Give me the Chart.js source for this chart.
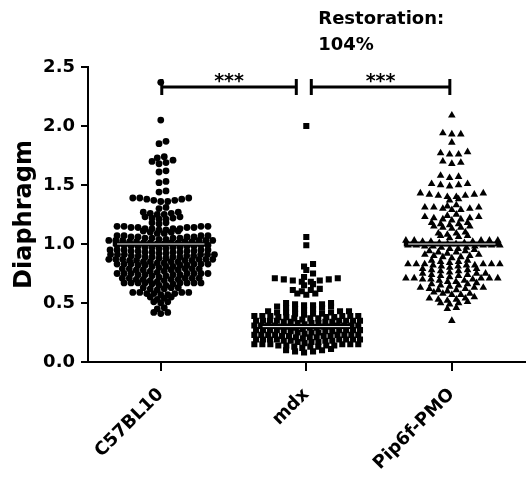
<!DOCTYPE html>
<html><head><meta charset="utf-8">
<script src="https://cdn.jsdelivr.net/npm/chart.js@4/dist/chart.umd.min.js"></script>
<style>html,body{margin:0;padding:0;background:#fff}</style>
</head><body>
<canvas id="c" width="529" height="484"></canvas>
<script>
const categories = ['C57BL10', 'mdx', 'Pip6f-PMO'];
const yTicks = [0, 0.5, 1.0, 1.5, 2.0, 2.5];
const yTitle = 'Diaphragm';
const c57Values = [
  2.37, 2.05, 1.87, 1.85, 1.74, 1.73, 1.69, 1.68, 1.70, 1.71, 1.61, 1.62, 1.53, 1.52, 1.44, 1.45,
  1.36,1.36,1.37,1.37,1.38,1.38,1.39,1.39,1.39,
  1.30,1.31,
  1.25,1.25,1.26,1.26,1.27,1.27,
  1.21,1.21,1.22,1.22,1.23,1.23,
  1.17,1.18,1.18,
  1.12,1.12,1.13,1.13,1.13,1.13,1.14,1.14,1.14,1.14,1.15,1.15,1.15,1.15,
  1.09,1.09,1.10,1.10,1.11,1.11,
  1.04,1.04,1.05,1.05,1.05,1.05,1.06,1.06,1.06,1.06,1.07,1.07,1.07,1.07,
  1.00,1.00,1.01,1.01,1.01,1.01,1.02,1.02,1.02,1.02,1.03,1.03,1.03,1.03,1.03,1.03,
  0.96,0.96,0.97,0.97,0.97,0.97,0.98,0.98,0.98,0.98,0.99,0.99,0.99,0.99,
  0.92,0.92,0.93,0.93,0.93,0.93,0.94,0.94,0.94,0.94,0.95,0.95,0.95,0.95,0.95,
  0.88,0.88,0.89,0.89,0.89,0.89,0.90,0.90,0.90,0.90,0.91,0.91,0.91,0.91,0.91,0.91,
  0.84,0.84,0.85,0.85,0.85,0.85,0.86,0.86,0.86,0.86,0.87,0.87,0.87,0.87,0.87,0.87,
  0.80,0.81,0.81,0.81,0.82,0.82,0.82,0.82,0.83,0.83,0.83,0.83,0.83,0.83,
  0.76,0.77,0.77,0.78,0.78,0.78,0.78,0.79,0.79,0.79,0.79,0.79,
  0.72,0.73,0.73,0.74,0.74,0.74,0.74,0.75,0.75,0.75,0.75,0.75,0.75,0.75,
  0.68,0.69,0.69,0.70,0.70,0.70,0.70,0.71,0.71,0.71,0.71,0.71,
  0.65,0.65,0.66,0.66,0.67,0.67,0.67,0.67,0.67,0.67,0.67,0.67,
  0.61,0.62,0.62,0.63,0.63,0.63,
  0.57,0.57,0.58,0.58,0.58,0.59,0.59,0.59,0.59,
  0.53,0.54,0.55,0.55,
  0.50,0.51,0.51,
  0.45,0.46,
  0.41,0.42,0.42
];
const mdxValues = [
  2.00, 1.06, 0.99, 0.83, 0.81, 0.78, 0.75, 0.72,
  0.68,0.68,0.69,0.69,0.70,0.70,0.71,0.71,
  0.65,0.66,
  0.60,0.61,0.61,0.62,
  0.57,0.58,0.58,
  0.48,0.48,0.49,0.49,0.50,0.50,
  0.44,0.45,0.45,0.46,0.46,0.47,0.47,
  0.40,0.41,0.41,0.41,0.42,0.42,0.42,0.43,0.43,0.43,
  0.36,0.37,0.37,0.37,0.38,0.38,0.38,0.38,0.39,0.39,0.39,0.39,0.39,0.39,
  0.32,0.33,0.33,0.33,0.34,0.34,0.34,0.34,0.35,0.35,0.35,0.35,0.35,0.35,0.35,0.35,
  0.28,0.29,0.29,0.29,0.30,0.30,0.30,0.30,0.31,0.31,0.31,0.31,0.31,0.31,0.31,0.31,
  0.24,0.25,0.25,0.25,0.26,0.26,0.26,0.26,0.27,0.27,0.27,0.27,0.27,0.27,0.27,0.27,
  0.20,0.21,0.21,0.21,0.22,0.22,0.22,0.22,0.23,0.23,0.23,0.23,0.23,0.23,0.23,0.23,
  0.16,0.17,0.17,0.17,0.18,0.18,0.18,0.18,0.19,0.19,0.19,0.19,0.19,0.19,0.19,0.19,
  0.12,0.13,0.13,0.13,0.14,0.14,0.14,0.14,0.15,0.15,0.15,0.15,0.15,0.15,
  0.08,0.09,0.09,0.10,0.10,0.11
];
const pmoValues = [
  2.09,
  1.93,1.93,1.94,
  1.86,
  1.76,1.76,1.77,1.78,
  1.68,1.69,1.70,
  1.56,1.57,1.58,
  1.49,1.50,1.50,1.51,1.51,
  1.40,1.40,1.41,1.41,1.42,1.42,1.43,1.43,
  1.37,1.38,
  1.32,1.33,
  1.29,1.29,1.30,1.30,1.31,1.31,1.31,
  1.24,1.25,
  1.20,1.21,1.21,1.22,1.22,1.23,1.23,
  1.16,1.17,1.17,1.18,1.18,
  1.13,1.14,1.14,1.15,1.15,
  1.08,1.09,1.09,1.10,
  1.05,1.06,1.07,1.07,
  1.00,1.00,1.01,1.01,1.02,1.02,1.02,1.03,1.03,1.03,1.03,1.03,
  0.96,0.96,0.97,0.97,0.98,0.98,0.98,0.99,0.99,0.99,0.99,0.99,
  0.92,0.93,0.93,0.94,0.94,0.95,
  0.88,0.89,0.89,0.90,0.90,0.91,0.91,
  0.84,0.85,0.85,0.86,0.86,
  0.80,0.81,0.81,0.82,0.82,0.82,0.83,0.83,0.83,0.83,0.83,0.83,
  0.76,0.77,0.77,0.78,0.78,0.79,0.79,
  0.72,0.73,0.73,0.74,0.74,0.75,0.75,0.75,
  0.68,0.68,0.69,0.69,0.70,0.70,0.70,0.71,0.71,0.71,0.71,0.71,
  0.64,0.65,0.65,0.66,0.66,0.67,
  0.60,0.61,0.61,0.62,0.62,0.63,0.63,0.63,
  0.57,0.57,0.58,0.58,0.59,
  0.52,0.53,0.53,0.54,0.54,0.55,
  0.49,0.50,0.50,0.51,
  0.45,0.46,
  0.35
];
const groupMeans = [1.00, 0.30, 1.00];
const comparisons = [[0, 1, '***'], [1, 2, '***']];
const annotationLines = ['Restoration:', '104%'];

const FONT = '"DejaVu Sans", sans-serif';

// Prism-style scatter layout: bin values into rows, spread each row horizontally,
// alternate rows offset by half a slot (hexagonal packing)
function swarm(values, gi, binSize, spacingPx, maxWidthPx, pxPerUnit) {
  const bins = new Map();
  values.forEach(v => {
    const k = Math.floor(Math.round(v * 1000) / Math.round(binSize * 1000));
    if (!bins.has(k)) bins.set(k, []);
    bins.get(k).push(v);
  });
  const pts = [];
  for (const [k, arr] of bins) {
    arr.sort((a, b) => a - b);
    const n = arr.length;
    const sp = n > 1 ? Math.min(spacingPx, maxWidthPx / (n - 1)) : 0;
    const slots = [];
    if (k % 2 === 0) {
      slots.push(0);
      for (let i = 1; slots.length < n; i++) { slots.push(i); if (slots.length < n) slots.push(-i); }
    } else {
      for (let i = 0; slots.length < n; i++) { slots.push(-(i + 0.5)); if (slots.length < n) slots.push(i + 0.5); }
    }
    const mean = slots.reduce((s, v) => s + v, 0) / n;
    arr.forEach((v, j) => pts.push({ x: gi + (slots[j] - (n > 1 ? mean * 0.5 : 0)) * sp / pxPerUnit, y: v }));
  }
  return pts;
}

const annotate = {
  id: 'annotate',
  afterDatasetsDraw(chart) {
    const { ctx, scales: { x, y } } = chart;
    ctx.save();
    ctx.strokeStyle = '#000';
    ctx.fillStyle = '#000';
    ctx.lineWidth = 3;
    const yb = y.getPixelForValue(2.33);
    comparisons.forEach(([a, b, lab], k) => {
      let x1 = x.getPixelForValue(a), x2 = x.getPixelForValue(b);
      if (k === 0) { x1 += 1; x2 -= 10; } else { x1 += 5; x2 -= 2; }
      ctx.beginPath();
      ctx.moveTo(x1, yb); ctx.lineTo(x2, yb);
      ctx.moveTo(x1, yb - 8); ctx.lineTo(x1, yb + 8);
      ctx.moveTo(x2, yb - 8); ctx.lineTo(x2, yb + 8);
      ctx.stroke();
      ctx.font = 'bold 19px ' + FONT;
      ctx.textAlign = 'center';
      ctx.textBaseline = 'alphabetic';
      ctx.fillText(lab, (x1 + x2) / 2, yb);
    });
    ctx.font = 'bold 18px ' + FONT;
    ctx.textAlign = 'left';
    const tx = x.getPixelForValue(1) + 12;
    annotationLines.forEach((t, i) => ctx.fillText(t, tx, 24 + i * 26));
    ctx.restore();
  }
};

const meanHalf = 0.33;
const meanBlack = groupMeans.map((m, i) => ({
  type: 'line', data: [{ x: i - meanHalf, y: m }, { x: i + meanHalf, y: m }],
  borderColor: '#000', borderWidth: 5, pointRadius: 0, order: 0, showLine: true
}));
const meanWhite = groupMeans.map((m, i) => ({
  type: 'line', data: [{ x: i - meanHalf + 0.03, y: m }, { x: i + meanHalf - 0.03, y: m }],
  borderColor: '#fff', borderWidth: 1, pointRadius: 0, order: -1, showLine: true
}));

const chart = new Chart(document.getElementById('c'), {
  type: 'scatter',
  data: {
    datasets: [
      { data: [], pointStyle: 'circle', pointRadius: 3.4, backgroundColor: '#000', borderColor: '#000', borderWidth: 0, order: 1 },
      { data: [], pointStyle: 'rect', pointRadius: 4.3, backgroundColor: '#000', borderColor: '#000', borderWidth: 0, order: 1 },
      { data: [], pointStyle: 'triangle', pointRadius: 4.4, backgroundColor: '#000', borderColor: '#000', borderWidth: 0, order: 1 },
      ...meanBlack, ...meanWhite
    ]
  },
  options: {
    animation: false, responsive: false, devicePixelRatio: 1,
    layout: { padding: { top: 67, right: 4, left: 0, bottom: 0 } },
    plugins: { legend: { display: false }, tooltip: { enabled: false } },
    scales: {
      x: {
        type: 'linear', min: -0.5, max: 2.5,
        afterBuildTicks: s => { s.ticks = categories.map((_, i) => ({ value: i })); },
        afterFit: s => { s.height = 122; },
        grid: { display: true, drawOnChartArea: false, drawTicks: true, tickLength: 9, color: '#000', lineWidth: 2 },
        border: { display: true, color: '#000', width: 2 },
        ticks: {
          autoSkip: false, maxRotation: 45, minRotation: 45, color: '#000', padding: 13,
          font: { family: FONT, weight: 'bold', size: 18 },
          callback: v => categories[v]
        }
      },
      y: {
        min: 0, max: 2.5,
        afterBuildTicks: s => { s.ticks = yTicks.map(v => ({ value: v })); },
        afterFit: s => { s.width = 88; },
        grid: { display: true, drawOnChartArea: false, drawTicks: true, tickLength: 7, color: '#000', lineWidth: 2 },
        border: { display: true, color: '#000', width: 2 },
        ticks: { color: '#000', padding: 6, font: { family: FONT, weight: 'bold', size: 18 }, callback: v => v.toFixed(1) },
        title: { display: true, text: yTitle, color: '#000', font: { family: FONT, weight: 'bold', size: 24 }, padding: { top: 10, bottom: 0 } }
      }
    }
  },
  plugins: [annotate]
});

const xs = chart.scales.x;
const ppu = xs.getPixelForValue(1) - xs.getPixelForValue(0);
chart.data.datasets[0].data = swarm(c57Values, 0, 0.04, 7, 104, ppu);
chart.data.datasets[1].data = swarm(mdxValues, 1, 0.04, 9, 104, ppu);
chart.data.datasets[2].data = swarm(pmoValues, 2, 0.04, 9, 92, ppu);
chart.update('none');
</script>
</body></html>
